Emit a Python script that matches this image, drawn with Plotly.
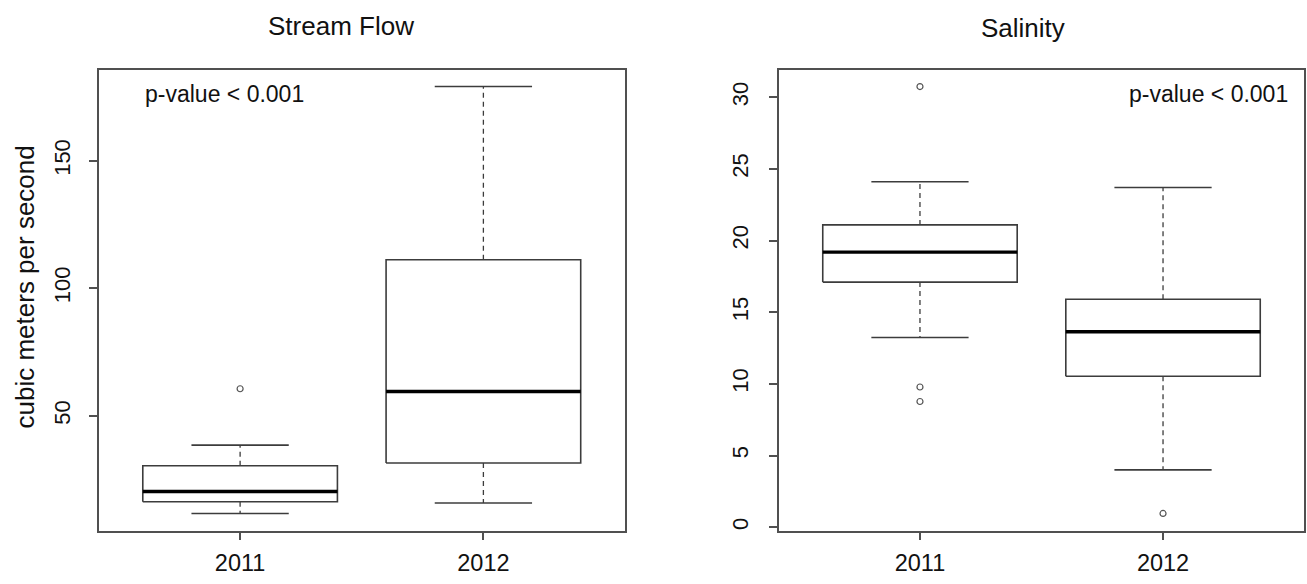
import plotly.graph_objects as go

# ---------------- data ----------------
years = ["2011", "2012"]

flow_q1 = [16.3, 31.5]
flow_median = [20.3, 59.5]
flow_q3 = [30.4, 111.2]
flow_lower = [11.7, 15.8]
flow_upper = [38.5, 179.1]
flow_outliers = [[60.6], []]

sal_q1 = [17.1, 10.53]
sal_median = [19.19, 13.64]
sal_q3 = [21.09, 15.9]
sal_lower = [13.23, 4.0]
sal_upper = [24.1, 23.7]
sal_outliers = [[30.74, 9.78, 8.77], [0.96]]

flow_ticks = [50, 100, 150]
sal_ticks = [0, 5, 10, 15, 20, 25, 30]

# ---------------- style ----------------
FONT = "Liberation Sans, Arial, sans-serif"
LINE = "#3c3c3c"
FRAME = "#505050"
TXT = "#111111"
HALF = 0.4      # half box width (R boxwex 0.8)
CAP = 0.2       # half staple width

fig = go.Figure()


def add_boxes(q1, med, q3, lo, hi, outs, xa, ya):
    for i in range(len(years)):
        c = i + 1
        # whisker stems (dashed)
        fig.add_trace(go.Scatter(x=[c, c], y=[q3[i], hi[i]], mode="lines",
                                 line=dict(color=LINE, width=1.3, dash="5px,4px"),
                                 xaxis=xa, yaxis=ya, hoverinfo="skip", showlegend=False))
        fig.add_trace(go.Scatter(x=[c, c], y=[q1[i], lo[i]], mode="lines",
                                 line=dict(color=LINE, width=1.3, dash="5px,4px"),
                                 xaxis=xa, yaxis=ya, hoverinfo="skip", showlegend=False))
        # staples
        for v in (lo[i], hi[i]):
            fig.add_trace(go.Scatter(x=[c - CAP, c + CAP], y=[v, v], mode="lines",
                                     line=dict(color=LINE, width=1.6),
                                     xaxis=xa, yaxis=ya, hoverinfo="skip", showlegend=False))
        # box
        fig.add_trace(go.Scatter(x=[c - HALF, c + HALF, c + HALF, c - HALF, c - HALF],
                                 y=[q1[i], q1[i], q3[i], q3[i], q1[i]], mode="lines",
                                 line=dict(color=LINE, width=1.6),
                                 xaxis=xa, yaxis=ya, hoverinfo="skip", showlegend=False))
        # median
        fig.add_trace(go.Scatter(x=[c - HALF, c + HALF], y=[med[i], med[i]], mode="lines",
                                 line=dict(color="#000000", width=3.4),
                                 xaxis=xa, yaxis=ya, hoverinfo="skip", showlegend=False))
        # outliers
        if outs[i]:
            fig.add_trace(go.Scatter(x=[c] * len(outs[i]), y=outs[i], mode="markers",
                                     marker=dict(symbol="circle-open", size=6,
                                                 color="#555555", line=dict(width=1.2, color="#555555")),
                                     xaxis=xa, yaxis=ya, hoverinfo="skip", showlegend=False))


add_boxes(flow_q1, flow_median, flow_q3, flow_lower, flow_upper, flow_outliers, "x", "y")
add_boxes(sal_q1, sal_median, sal_q3, sal_lower, sal_upper, sal_outliers, "x2", "y2")


def r_range(lows, highs, outs):
    vals = list(lows) + list(highs) + [v for o in outs for v in o]
    lo, hi = min(vals), max(vals)
    pad = 0.04 * (hi - lo)
    return [lo - pad, hi + pad]


W, H = 1307, 584
ytop = 1 - 69.5 / H
ybot = 1 - 530.5 / H

xax = dict(range=[0.42, 2.58], tickvals=[1, 2], ticktext=years,
           showline=True, mirror=True, linecolor=FRAME, linewidth=1.5,
           ticks="outside", ticklen=8, tickwidth=1.5, tickcolor=FRAME,
           showgrid=False, zeroline=False, ticklabelstandoff=3,
           tickfont=dict(family=FONT, size=23.5, color=TXT))
yax = dict(showline=True, mirror=True, linecolor=FRAME, linewidth=1.5,
           ticks="outside", ticklen=8, tickwidth=1.5, tickcolor=FRAME,
           showgrid=False, zeroline=False, tickangle=-90,
           tickfont=dict(family=FONT, size=22, color=TXT))

fig.update_layout(
    width=W, height=H,
    margin=dict(l=0, r=0, t=0, b=0),
    paper_bgcolor="white", plot_bgcolor="white",
    showlegend=False,
    xaxis=dict(xax, domain=[99 / W, 624.5 / W], anchor="y"),
    yaxis=dict(yax, domain=[ybot, ytop], anchor="x",
               range=r_range(flow_lower, flow_upper, flow_outliers),
               tickvals=flow_ticks, ticklabelstandoff=10),
    xaxis2=dict(xax, domain=[779 / W, 1304 / W], anchor="y2"),
    yaxis2=dict(yax, domain=[ybot, ytop], anchor="x2",
                range=r_range(sal_lower, sal_upper, sal_outliers),
                tickvals=sal_ticks, ticklabelstandoff=12),
)

ann = [
    dict(text="Stream Flow", x=341 / W, y=1 - 26 / H, size=26),
    dict(text="Salinity", x=1023 / W, y=1 - 28 / H, size=26),
    dict(text="p-value &lt; 0.001", x=225 / W, y=1 - 93.5 / H, size=23),
    dict(text="p-value &lt; 0.001", x=1208 / W, y=1 - 94 / H, size=23),
]
for a in ann:
    fig.add_annotation(text=a["text"], x=a["x"], y=a["y"], xref="paper", yref="paper",
                       xanchor="center", yanchor="middle", showarrow=False,
                       font=dict(family=FONT, size=a["size"], color=TXT))
fig.add_annotation(text="cubic meters per second", x=24 / W, y=1 - 287.5 / H,
                   xref="paper", yref="paper", xanchor="center", yanchor="middle",
                   textangle=-90, showarrow=False,
                   font=dict(family=FONT, size=26, color=TXT))

fig.write_html("out.html", config={"displayModeBar": False},
               post_script="document.body.style.margin='0';")
